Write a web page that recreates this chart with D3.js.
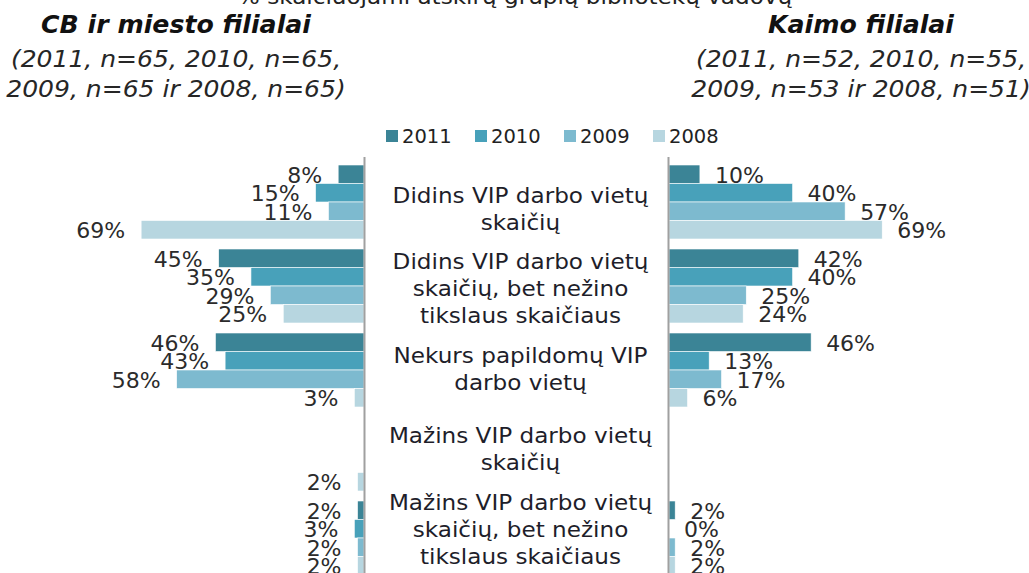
<!DOCTYPE html>
<html><head><meta charset="utf-8">
<script src="https://cdn.jsdelivr.net/npm/d3@7"></script>
<style>
html,body{margin:0;padding:0;background:#fff;}
svg{display:block;}
text{font-family:"DejaVu Sans",Verdana,sans-serif;}
</style></head>
<body>
<svg id="chart" width="1029" height="573"></svg>
<script>
// ---- data ----
const categories = [
  "Didins VIP darbo vietų\nskaičių",
  "Didins VIP darbo vietų\nskaičių, bet nežino\ntikslaus skaičiaus",
  "Nekurs papildomų VIP\ndarbo vietų",
  "Mažins VIP darbo vietų\nskaičių",
  "Mažins VIP darbo vietų\nskaičių, bet nežino\ntikslaus skaičiaus"
];
const years = ["2011","2010","2009","2008"];
// CB ir miesto filialai (left), values per category in order 2011,2010,2009,2008
const city2011 = [8, 45, 46, null, 2];
const city2010 = [15, 35, 43, null, 3];
const city2009 = [11, 29, 58, null, 2];
const city2008 = [69, 25, 3, 2, 2];
// Kaimo filialai (right)
const rural2011 = [10, 42, 46, null, 2];
const rural2010 = [40, 40, 13, null, 0];
const rural2009 = [57, 25, 17, null, 2];
const rural2008 = [69, 24, 6, null, 2];
const colors = ["#3b8496","#48a1ba","#7dbacf","#b7d6e0"];
const topNote = "% skaičiuojami atskirų grupių bibliotekų vadovų";
const leftTitle = "CB ir miesto filialai";
const leftSub = ["(2011, n=65, 2010, n=65,", "2009, n=65 ir 2008, n=65)"];
const rightTitle = "Kaimo filialai";
const rightSub = ["(2011, n=52, 2010, n=55,", "2009, n=53 ir 2008, n=51)"];

const citySeries = [city2011, city2010, city2009, city2008];
const ruralSeries = [rural2011, rural2010, rural2009, rural2008];

const svg = d3.select("#chart");

function stretch(sel, k){
  sel.each(function(){
    const w = this.getComputedTextLength();
    d3.select(this).attr("textLength", w * k).attr("lengthAdjust", "spacingAndGlyphs");
  });
  return sel;
}

// ---- scales ----
const y = d3.scaleBand().domain(d3.range(categories.length)).range([165, 575]).paddingInner(10/84).paddingOuter(0);
const ySub = d3.scaleBand().domain(years).range([0, y.bandwidth()]).padding(0);
const xL = d3.scaleLinear().domain([0, 100]).range([364, 41]);
const xR = d3.scaleLinear().domain([0, 100]).range([669, 978]);
const yLabel = d3.scalePoint().domain(d3.range(categories.length)).range([209, 530]);

function flat(series){
  const out = [];
  categories.forEach((c, ci) => years.forEach((yr, si) => {
    const v = series[si][ci];
    if (v !== null && v !== undefined) out.push({ci, yr, si, v});
  }));
  return out;
}

// ---- top texts ----
stretch(svg.append("text").attr("x", 515).attr("y", 4).attr("text-anchor","middle")
  .attr("font-size", 22).attr("fill","#222").text(topNote), 1.05);

function header(cx, title, sub){
  stretch(svg.append("text").attr("x", cx).attr("y", 33).attr("text-anchor","middle")
    .attr("font-size", 24).attr("font-weight","bold").attr("font-style","italic")
    .attr("fill","#111").text(title), 1.05);
  sub.forEach((s, i) => stretch(svg.append("text").attr("x", cx).attr("y", 67 + i*30)
    .attr("text-anchor","middle").attr("font-size", 23.5).attr("font-style","italic")
    .attr("fill","#262626").text(s), 1.065));
}
header(176, leftTitle, leftSub);
header(861, rightTitle, rightSub);

// ---- legend ----
const lg = svg.append("g");
years.forEach((yr, i) => {
  const g = lg.append("g").attr("transform", `translate(${386 + i*89},0)`);
  g.append("rect").attr("x",0).attr("y",130).attr("width",12).attr("height",12).attr("fill",colors[i]);
  g.append("text").attr("x",16).attr("y",143).attr("font-size",19.5).attr("fill","#222").text(yr);
});

// ---- bars ----
function drawSide(series, x, side){
  const data = flat(series);
  const g = svg.append("g");
  g.selectAll("rect").data(data).join("rect")
    .attr("x", d => side === "L" ? x(d.v) : x(0))
    .attr("width", d => Math.abs(x(d.v) - x(0)))
    .attr("y", d => y(d.ci) + ySub(d.yr))
    .attr("height", ySub.bandwidth())
    .attr("fill", d => colors[d.si])
    .attr("stroke", "#fff").attr("stroke-width", 0.6);
  g.selectAll("text").data(data).join("text")
    .attr("x", d => side === "L" ? x(d.v) - 16 : x(d.v) + 15)
    .attr("y", d => y(d.ci) + ySub(d.yr) + ySub.bandwidth()/2 + 8.5)
    .attr("text-anchor", side === "L" ? "end" : "start")
    .attr("font-size", 22).attr("fill","#2b2b2b")
    .text(d => d.v + "%");
}
drawSide(citySeries, xL, "L");
drawSide(ruralSeries, xR, "R");

// ---- axis lines ----
svg.append("line").attr("x1", xL(0)+0.5).attr("x2", xL(0)+0.5).attr("y1",157).attr("y2",573)
  .attr("stroke","#a0a0a0").attr("stroke-width",2);
svg.append("line").attr("x1", xR(0)-0.5).attr("x2", xR(0)-0.5).attr("y1",157).attr("y2",573)
  .attr("stroke","#a0a0a0").attr("stroke-width",2);

// ---- category labels ----
const cx = (xL(0) + xR(0)) / 2 + 4;
categories.forEach((c, i) => {
  const lines = c.split("\n");
  const c0 = yLabel(i) + 7 - (lines.length - 1) * 27 / 2;
  lines.forEach((ln, j) => stretch(svg.append("text").attr("text-anchor","middle")
    .attr("font-size",21.5).attr("fill","#1e1e2a")
    .attr("x", cx).attr("y", c0 + j*27).text(ln), 1.075));
});
</script>
</body></html>
